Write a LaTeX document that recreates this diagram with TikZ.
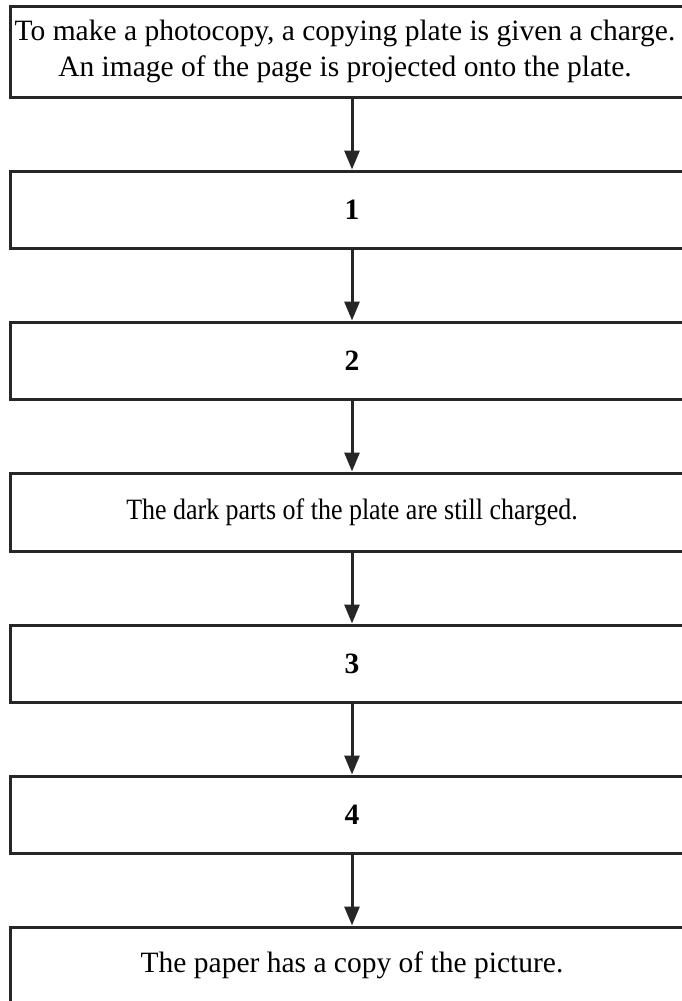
\documentclass[tikz,border=0pt]{standalone}
\usepackage{graphicx}
\usepackage{fontspec}
\setmainfont{Liberation Serif}
\usetikzlibrary{arrows.meta}
\begin{document}
\begin{tikzpicture}[x=1pt,y=-1pt,
  stagebox/.style={draw=black!85,line width=3pt,rectangle,minimum width=684pt,
    inner sep=0pt,align=center,font=\fontsize{29.5}{36}\selectfont},
  stagetext/.style={inner sep=0pt,align=center,font=\fontsize{29.5}{36}\selectfont},
  flow/.style={draw=black!85,line width=3pt,-{Triangle[width=15pt,length=19pt]}}]
\useasboundingbox (0,0) rectangle (682,1001);
\clip (0,0) rectangle (682,1001);
% first stage: the box runs off the right edge, its two lines sit a little left of centre
\node[stagebox,minimum height=91pt] (s0) at (352,51.5) {};
\node[stagetext] (s0t) at (345,51.5)
  {To make a photocopy, a copying plate is given a charge.\\An image of the page is projected onto the plate.};
\node[stagebox,minimum height=77pt] (s1) at (352,209.5) {\textbf{1}};
\node[stagebox,minimum height=77pt] (s2) at (352,360.5) {\textbf{2}};
\node[stagebox,minimum height=78pt] (s3) at (352,512)
  {\scalebox{0.88}[1]{The dark parts of the plate are still charged.}};
\node[stagebox,minimum height=77pt] (s4) at (352,663.5) {\textbf{3}};
\node[stagebox,minimum height=77pt] (s5) at (352,814.5) {\textbf{4}};
\node[stagebox,minimum height=77pt] (s6) at (352,965.5) {The paper has a copy of the picture.};
\draw[flow] (s0.south) -- (s1.north);
\draw[flow] (s1.south) -- (s2.north);
\draw[flow] (s2.south) -- (s3.north);
\draw[flow] (s3.south) -- (s4.north);
\draw[flow] (s4.south) -- (s5.north);
\draw[flow] (s5.south) -- (s6.north);
\end{tikzpicture}
\end{document}
